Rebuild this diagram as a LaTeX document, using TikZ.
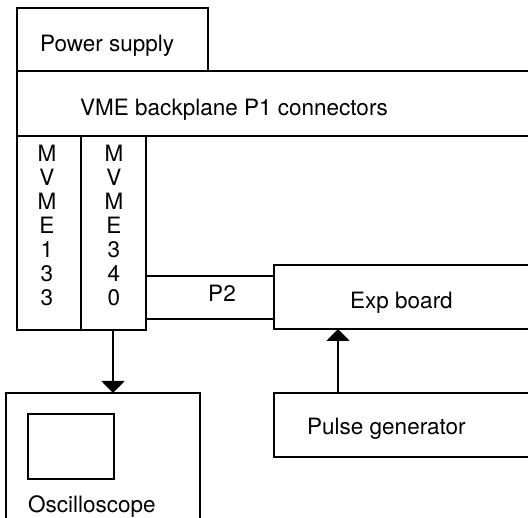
\documentclass[tikz,border=0pt]{standalone}
\usepackage{fontspec}
\setmainfont{TeX Gyre Heros}
\usetikzlibrary{arrows.meta}
\tikzset{
  box/.style={draw, line width=1.9pt, rectangle, inner sep=0pt, outer sep=0pt, anchor=north west},
  lbl/.style={inner sep=0pt, anchor=base west, font=\fontsize{22.5}{24}\selectfont},
  vlbl/.style={inner sep=0pt, anchor=north, align=center, font=\fontsize{22.5}{24}\selectfont},
  conn/.style={line width=1.9pt},
  arr/.style={line width=1.9pt, -{Triangle[width=23pt,length=12pt]}}
}
\begin{document}
\begin{tikzpicture}[x=1pt,y=-1pt]
\useasboundingbox (0,0) rectangle (528,518);
\clip (0,0) rectangle (528,518);
% boxes
\node[box, minimum width=191pt, minimum height=63pt] (ps) at (17,8) {};
\node[box, minimum width=560pt, minimum height=65pt] (vme) at (17,71) {};
\node[box, minimum width=64pt, minimum height=194pt] (m133) at (17,136) {};
\node[box, minimum width=65pt, minimum height=194pt] (m340) at (81,136) {};
\node[box, minimum width=300pt, minimum height=64pt] (exp) at (274,265) {};
\node[box, minimum width=300pt, minimum height=64pt] (pg) at (274,393) {};
\node[box, minimum width=194pt, minimum height=200pt] (osc) at (6,393) {};
\node[box, minimum width=86pt, minimum height=65pt] (screen) at (28,414) {};
% labels
\node[lbl] (tps) at (40,52) {Power supply};
\node[lbl] (tvme) at (80,116) {VME backplane P1 connectors};
\node[vlbl] (t133) at (47,145) {M\\V\\M\\E\\1\\3\\3};
\node[vlbl] (t340) at (114,145) {M\\V\\M\\E\\3\\4\\0};
\node[lbl, anchor=base] (tp2) at (222,302) {P2};
\node[lbl] (texp) at (350,309) {Exp board};
\node[lbl] (tpg) at (307,435) {Pulse generator};
\node[lbl] (tosc) at (28,513) {Oscilloscope};
% P2 connector
\draw[conn] (m340.east |- 0,276) -- (exp.west |- 0,276);
\draw[conn] (m340.east |- 0,319) -- (exp.west |- 0,319);
% arrows
\draw[arr] (pg.north -| 338,0) -- (exp.south -| 338,0);
\draw[arr] (m340.south -| 113,0) -- (osc.north -| 113,0);
\end{tikzpicture}
\end{document}
